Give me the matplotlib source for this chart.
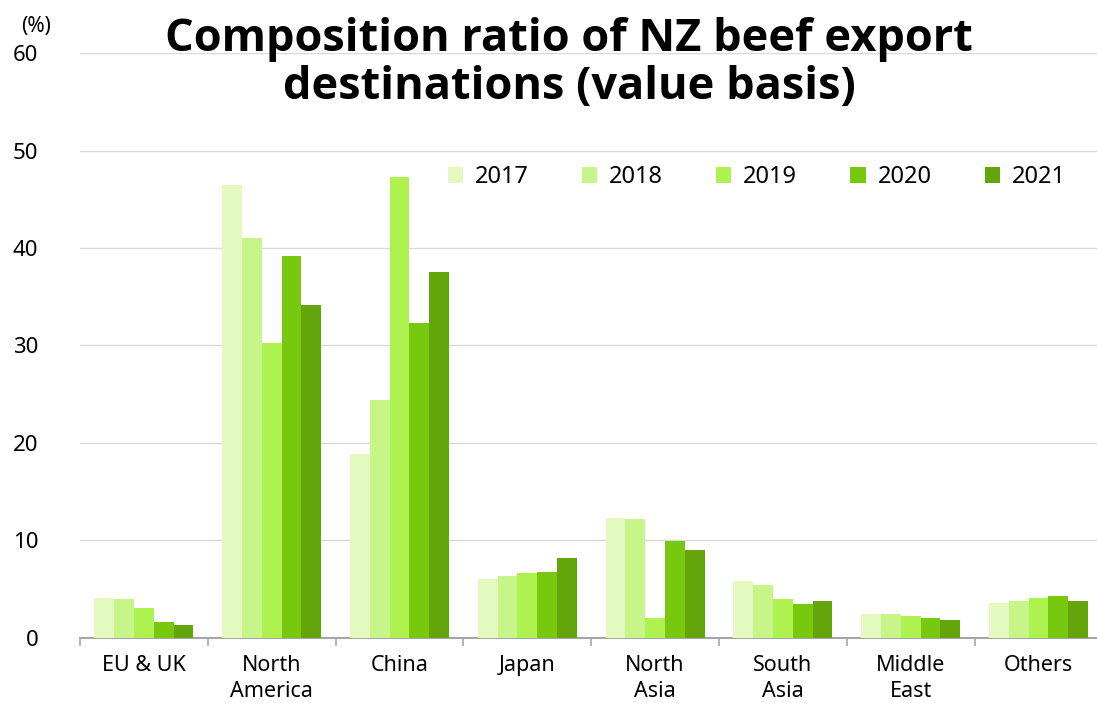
import numpy as np
import matplotlib
matplotlib.use("Agg")
import matplotlib.pyplot as plt

categories = ["EU & UK", "North\nAmerica", "China", "Japan", "North\nAsia",
              "South\nAsia", "Middle\nEast", "Others"]
years = ["2017", "2018", "2019", "2020", "2021"]
values = {
    "2017": [4.1, 46.5, 18.9, 6.1, 12.3, 5.8, 2.5, 3.6],
    "2018": [4.0, 41.0, 24.4, 6.4, 12.2, 5.4, 2.5, 3.8],
    "2019": [3.1, 30.3, 47.3, 6.7, 2.0, 4.0, 2.3, 4.1],
    "2020": [1.6, 39.2, 32.3, 6.8, 9.9, 3.5, 2.0, 4.3],
    "2021": [1.3, 34.2, 37.5, 8.2, 9.0, 3.8, 1.8, 3.8],
}
colors = ["#e2fac0", "#c8f589", "#adf24e", "#78c80f", "#62a60c"]

plt.rcParams["font.family"] = ["Noto Sans", "DejaVu Sans"]

fig = plt.figure(figsize=(10.97, 7.03), dpi=100)
ax = fig.add_axes([0.0729, 0.0925, 0.932, 0.8321])

x = np.arange(len(categories))
w = 0.155
for i, y in enumerate(years):
    ax.bar(x + (i - 2) * w, values[y], w, color=colors[i], label=y, zorder=3)

ax.set_xlim(-0.5, len(categories) - 0.5)
ax.set_ylim(0, 60)
ax.set_yticks(range(0, 61, 10))
ax.yaxis.grid(True, color="#d9d9d9", lw=1, zorder=0)
ax.tick_params(axis="y", length=0, labelsize=16, pad=30)
ax.set_xticks(x)
ax.set_xticklabels(categories, fontsize=15.5, va="top", linespacing=1.35)
ax.tick_params(axis="x", length=0, pad=12)
ax.set_xticks(np.arange(-0.5, len(categories)), minor=True)
ax.tick_params(axis="x", which="minor", length=6, color="#a6a6a6", width=1.2)
for s in ["left", "right", "top"]:
    ax.spines[s].set_visible(False)
ax.spines["bottom"].set_color("#a6a6a6")
ax.spines["bottom"].set_linewidth(1.5)

fig.text(0.033, 0.962, "(%)", fontsize=15, ha="center", va="center")
fig.text(0.519, 0.91, "Composition ratio of NZ beef export\ndestinations (value basis)",
         fontsize=32.5, fontweight="bold", family=["Open Sans", "DejaVu Sans"],
         ha="center", va="center", linespacing=1.1)

ax.legend(loc="upper right", bbox_to_anchor=(0.985, 0.845), ncol=5, frameon=False,
          fontsize=17, handlelength=0.65, handleheight=0.65, columnspacing=2.25,
          handletextpad=0.5)

fig.savefig("out.png", dpi=100)
